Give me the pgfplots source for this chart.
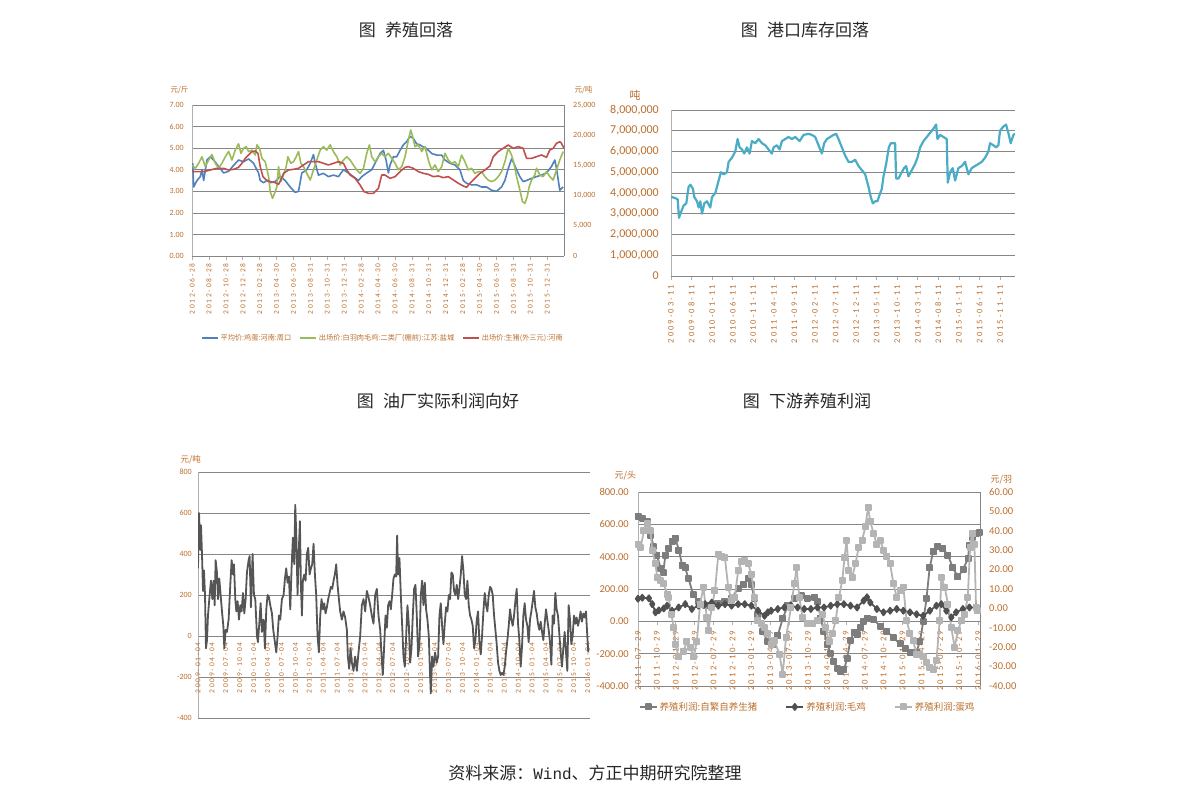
\documentclass[border=0pt]{standalone}
\usepackage{pgfplots}
\pgfplotsset{compat=1.18}
\usepackage{fontspec}
\setmainfont{Carlito}
\newfontfamily\cjk{Noto Sans CJK SC}
\newfontfamily\monof{Liberation Mono}
\newfontfamily\datef[LetterSpace=24]{Carlito}
\definecolor{tickbrown}{RGB}{187,110,45}
\definecolor{gridgray}{RGB}{134,134,134}
\definecolor{axgray}{RGB}{175,175,175}
\definecolor{xlblue}{RGB}{79,129,189}
\definecolor{xlgreen}{RGB}{155,187,89}
\definecolor{xlred}{RGB}{192,80,77}
\definecolor{xlteal}{RGB}{75,172,198}
\definecolor{dgray}{RGB}{85,85,85}
\definecolor{pigc}{RGB}{125,125,125}
\definecolor{broilc}{RGB}{80,80,80}
\definecolor{layc}{RGB}{180,180,180}
\pgfplotsset{
  base/.style={scale only axis, anchor=north west,
    /pgf/number format/assume math mode=true,
    hide obscured x ticks=false,
    tick label style={text=tickbrown},
    ytick style={draw=none},
    xtick style={draw=axgray, line width=0.6pt},
    tick align=outside, major tick length=4pt,
    major grid style={draw=gridgray, line width=0.6pt},
    x axis line style={draw=gridgray, line width=0.7pt, -},
    y axis line style={draw=axgray, line width=0.8pt, -},
    xticklabel style={rotate=90, anchor=east, inner sep=0pt},
    yticklabel style={inner sep=0pt},
    every axis plot/.append style={line join=round},
  },
  zf/.style={yticklabel style={/pgf/number format/fixed, /pgf/number format/fixed zerofill, /pgf/number format/precision=2}},
  thou/.style={yticklabel style={/pgf/number format/fixed, /pgf/number format/precision=0, /pgf/number format/1000 sep={,}}},
}
\begin{document}
\begin{tikzpicture}
\path[use as bounding box] (0pt,0pt) rectangle (1191pt,-804pt);
\begin{scope}[font=\cjk\fontsize{17}{17}\selectfont, text=black!85]
\node at (406pt,-30pt) {图\hspace{0.55em}养殖回落};
\node at (805pt,-30pt) {图\hspace{0.55em}港口库存回落};
\node at (438pt,-401pt) {图\hspace{0.55em}油厂实际利润向好};
\node at (807pt,-401pt) {图\hspace{0.55em}下游养殖利润};
\node at (595pt,-773pt) {资料来源：{\monof\fontsize{16}{16}\selectfont Wind}、方正中期研究院整理};
\end{scope}
\begin{scope}[text=tickbrown]
\node[anchor=west, font=\cjk\fontsize{7.5}{8}\selectfont] at (167pt,-90pt) {元/斤};
\node[anchor=west, font=\cjk\fontsize{7.5}{8}\selectfont] at (571pt,-90pt) {元/吨};
\node[font=\cjk\fontsize{11}{12}\selectfont] at (635pt,-95pt) {吨};
\node[anchor=west, font=\cjk\fontsize{8.5}{9}\selectfont] at (177pt,-460pt) {元/吨};
\node[anchor=west, font=\cjk\fontsize{9}{10}\selectfont] at (611pt,-476pt) {元/头};
\node[anchor=west, font=\cjk\fontsize{9}{10}\selectfont] at (987pt,-480pt) {元/羽};
\end{scope}

% ---------------- Chart 1 -----------------
\begin{axis}[base, zf, at={(192pt,-105pt)}, width=372pt, height=151pt,
  xmin=0, xmax=44, ymin=0, ymax=7,
  axis x line*=bottom, axis y line*=left, ymajorgrids,
  ytick={0,1,2,3,4,5,6,7},
  tick label style={font=\fontsize{8}{9}\selectfont},
  xticklabel style={font=\datef\fontsize{7.5}{8}\selectfont},
  yticklabel shift=4pt, xticklabel shift=3pt,
  xtick={0,2,...,42},
  xticklabels={2012-06-28,2012-08-28,2012-10-28,2012-12-28,2013-02-28,2013-04-30,2013-06-30,2013-08-31,2013-10-31,2013-12-31,2014-02-28,2014-04-30,2014-06-30,2014-08-31,2014-10-31,2014-12-31,2015-02-28,2015-04-30,2015-06-30,2015-08-31,2015-10-31,2015-12-31}]
\addplot[xlblue, line width=1.6pt] coordinates {
(0.08,4.3)(0.20,3.2)(0.59,3.5)(0.98,3.68)(1.18,4.0)(1.38,3.5)(1.77,4.45)(2.17,4.6)(2.56,4.45)(3.15,4.15)(3.74,3.85)(4.33,3.93)(4.92,4.2)(5.51,4.45)(6.10,4.37)(6.69,4.5)(7.28,4.3)(7.87,3.85)(8.07,3.5)(8.46,3.4)(8.86,3.5)(9.25,3.4)(9.84,3.45)(10.43,3.7)(11.02,3.5)(11.61,3.2)(12.20,2.95)(12.60,3.0)(12.99,3.85)(13.58,4.0)(13.98,4.3)(14.37,4.7)(14.57,4.3)(14.96,3.75)(15.55,3.83)(16.14,3.68)(16.73,3.75)(17.32,3.68)(17.91,4.0)(18.50,3.85)(19.09,3.68)(19.69,3.5)(20.08,3.68)(20.67,3.85)(21.26,4.0)(21.85,4.45)(22.24,4.75)(22.64,4.9)(22.95,4.45)(23.23,3.85)(23.43,4.22)(23.82,4.6)(24.21,4.6)(24.61,4.9)(25.0,5.15)(25.39,5.3)(25.79,5.55)(26.18,5.45)(26.57,5.2)(26.97,5.15)(27.36,5.05)(27.76,4.98)(28.35,4.75)(28.94,4.68)(29.53,4.68)(29.92,4.45)(30.51,4.3)(31.10,4.22)(31.69,4.0)(32.09,3.5)(32.48,3.37)(33.07,3.3)(33.66,3.3)(34.25,3.2)(34.84,3.2)(35.43,3.05)(36.02,3.0)(36.61,3.2)(37.01,3.5)(37.40,4.05)(37.80,4.5)(38.07,4.3)(38.39,4.0)(38.78,3.68)(39.17,3.45)(39.57,3.5)(40.16,3.6)(40.75,3.68)(41.34,3.75)(41.93,3.85)(42.52,4.15)(42.91,4.45)(43.11,4.07)(43.50,3.05)(43.90,3.2)};
\addplot[xlgreen, line width=1.6pt] coordinates {
(0,4.2)(0.39,4.07)(0.79,4.3)(1.18,4.6)(1.57,4.15)(1.97,4.45)(2.36,4.7)(2.76,4.3)(3.15,4.07)(3.54,4.3)(3.94,4.6)(4.33,4.85)(4.72,4.45)(5.12,4.91)(5.51,5.2)(5.79,4.76)(6.10,4.99)(6.42,5.07)(6.69,4.84)(7.09,4.91)(7.48,4.68)(7.68,5.15)(7.99,4.99)(8.27,4.53)(8.66,4.37)(9.06,3.68)(9.25,2.98)(9.53,2.67)(9.76,2.9)(10.04,3.21)(10.24,4.14)(10.51,3.45)(10.83,3.76)(11.14,4.14)(11.34,4.6)(11.69,4.3)(12.01,4.37)(12.32,4.6)(12.6,4.84)(12.87,4.3)(13.19,4.14)(13.58,3.83)(13.98,3.52)(14.37,3.99)(14.76,4.45)(15.16,4.91)(15.55,5.07)(15.94,4.91)(16.34,5.15)(16.73,4.84)(17.13,4.6)(17.52,4.22)(17.91,4.45)(18.31,4.6)(18.70,4.45)(19.09,4.22)(19.49,3.99)(19.88,3.83)(20.28,4.07)(20.67,4.76)(20.98,5.15)(21.26,4.6)(21.65,4.37)(22.05,4.6)(22.44,4.76)(22.83,4.6)(23.23,4.76)(23.62,4.53)(24.02,4.3)(24.41,4.0)(24.8,4.14)(25.2,4.6)(25.59,5.38)(25.87,5.84)(26.1,5.53)(26.38,5.07)(26.77,5.15)(27.17,4.84)(27.56,5.07)(27.95,4.45)(28.35,3.99)(28.74,4.22)(29.13,3.91)(29.53,4.14)(29.92,4.76)(30.31,4.45)(30.71,4.3)(31.1,4.37)(31.5,4.14)(31.89,4.68)(32.28,4.37)(32.68,3.99)(33.07,4.07)(33.46,3.83)(33.86,3.91)(34.25,3.91)(34.65,3.68)(35.04,3.52)(35.43,3.45)(35.83,3.52)(36.22,3.68)(36.61,3.91)(37.01,4.37)(37.4,4.99)(37.8,4.68)(38.07,4.3)(38.39,3.68)(38.78,3.06)(39.09,2.52)(39.37,2.44)(39.65,2.75)(39.88,3.21)(40.16,3.52)(40.55,3.76)(40.75,4.07)(41.14,3.76)(41.54,3.68)(41.93,3.91)(42.32,3.68)(42.72,3.52)(43.11,3.99)(43.5,4.45)(43.9,4.84)};
\end{axis}
\begin{axis}[base, thou, at={(192pt,-105pt)}, width=372pt, height=151pt,
  xmin=0, xmax=44, ymin=0, ymax=25000,
  axis x line=none, axis y line*=right,
  y axis line style={draw=gridgray},
  ytick={0,5000,10000,15000,20000,25000}, scaled y ticks=false,
  yticklabel style={anchor=west},
  tick label style={font=\fontsize{8}{9}\selectfont},
  yticklabel shift=5pt,
  legend style={at={(0.513,-0.543)}, anchor=center, draw=none, fill=none,
    legend columns=-1, font=\cjk\fontsize{7.2}{8}\selectfont, text=tickbrown,
    /tikz/every even column/.append style={column sep=6pt}},
  legend image code/.code={\draw[#1] (0pt,0pt) -- (16pt,0pt);}]
\addlegendimage{xlblue, line width=1.6pt}
\addlegendentry{平均价:鸡蛋:河南:周口}
\addlegendimage{xlgreen, line width=1.6pt}
\addlegendentry{出场价:白羽肉毛鸡:二类厂(棚前):江苏:盐城}
\addplot[xlred, line width=1.6pt] coordinates {
(0,13970)(0.59,13970)(1.38,13970)(2.17,14240)(2.95,14520)(3.74,14520)(4.33,14240)(4.92,14350)(5.51,14680)(5.91,15350)(6.3,16170)(6.69,16730)(7.09,17280)(7.48,17390)(7.8,17000)(8.07,14790)(8.39,13140)(8.78,12590)(9.25,12310)(9.84,12140)(10.24,11870)(10.51,12590)(10.83,13690)(11.42,14240)(12.01,14350)(12.6,14520)(13.19,15070)(13.78,15620)(14.37,15620)(14.96,15620)(15.55,15350)(16.14,15070)(16.73,15350)(17.32,15620)(17.91,15350)(18.31,14240)(18.7,13410)(19.29,12860)(19.88,11760)(20.35,10650)(20.87,10380)(21.46,10380)(22.05,11210)(22.44,13410)(22.83,13410)(23.43,12860)(24.02,13140)(24.61,13970)(25.2,14680)(25.59,14790)(26.18,14520)(26.77,13970)(27.36,13690)(27.95,13520)(28.54,13140)(29.13,13250)(29.72,12970)(30.31,13140)(30.91,12590)(31.5,12040)(32.09,11590)(32.48,11370)(32.87,12040)(33.46,12860)(34.06,13690)(34.65,14240)(35.24,14900)(35.63,16450)(36.22,17280)(36.81,17830)(37.4,18380)(37.99,17830)(38.58,18110)(39.17,17830)(39.57,16170)(40.16,16170)(40.75,16450)(41.34,16730)(41.93,16340)(42.32,17550)(42.72,17830)(43.11,18660)(43.5,18930)(43.7,18660)(44.0,17830)};
\addlegendentry{出场价:生猪(外三元):河南}
\end{axis}

% ---------------- Chart 2 -----------------
\begin{axis}[base, thou, at={(671pt,-110pt)}, width=344pt, height=166pt,
  xmin=0, xmax=83.64, ymin=0, ymax=8000000,
  axis x line*=bottom, axis y line*=left, ymajorgrids,
  ytick={0,1000000,2000000,3000000,4000000,5000000,6000000,7000000,8000000},
  scaled y ticks=false,
  tick label style={font=\fontsize{12}{13}\selectfont},
  xticklabel style={font=\datef\fontsize{8.5}{9}\selectfont},
  yticklabel shift=8pt, xticklabel shift=5pt,
  xtick={0,5,...,80},
  xticklabels={2009-03-11,2009-08-11,2010-01-11,2010-06-11,2010-11-11,2011-04-11,2011-09-11,2012-02-11,2012-07-11,2012-12-11,2013-05-11,2013-10-11,2014-03-11,2014-08-11,2015-01-11,2015-06-11,2015-11-11}]
\addplot[xlteal, line width=2.2pt] coordinates {
(0,3820000)(1.05,3750000)(1.62,3700000)(1.94,2800000)(2.27,3000000)(3.08,3400000)(3.72,3500000)(4.05,4000000)(4.29,4300000)(4.70,4400000)(5.34,4200000)(5.67,3800000)(6.32,3600000)(6.72,3300000)(7.13,3600000)(7.53,3000000)(8.10,3500000)(8.74,3600000)(9.55,3300000)(9.96,3800000)(10.77,4000000)(11.58,4600000)(12.15,5000000)(12.79,4900000)(13.60,5000000)(14.01,5500000)(14.82,5700000)(15.63,6000000)(16.19,6600000)(16.68,6200000)(17.25,6100000)(17.81,5900000)(18.46,6200000)(19.11,5900000)(19.68,6500000)(20.49,6400000)(21.30,6600000)(22.11,6400000)(22.91,6300000)(23.72,6100000)(24.53,5900000)(24.94,6200000)(25.75,6300000)(26.40,6100000)(26.96,6500000)(27.77,6600000)(28.58,6700000)(29.39,6600000)(30.20,6700000)(31.26,6500000)(32.23,6800000)(33.44,6850000)(34.25,6800000)(35.06,6700000)(35.87,6300000)(36.68,5900000)(37.25,6400000)(37.89,6600000)(38.70,6700000)(39.51,6800000)(40.16,6850000)(40.73,6600000)(41.54,6200000)(42.35,5800000)(43.16,5500000)(43.97,5500000)(44.78,5600000)(45.59,5300000)(46.40,5100000)(47.21,4900000)(48.02,4300000)(48.58,3800000)(49.07,3500000)(49.64,3600000)(50.20,3600000)(50.69,3900000)(51.26,4200000)(51.66,4800000)(52.31,5400000)(52.96,6200000)(53.44,6400000)(54.09,6400000)(54.49,6400000)(54.74,4700000)(55.30,4700000)(56.11,5000000)(56.68,5200000)(57.17,5300000)(57.73,4800000)(58.54,5100000)(59.35,5400000)(59.92,5700000)(60.57,6200000)(61.38,6500000)(62.19,6700000)(63.00,6900000)(63.81,7100000)(64.45,7300000)(64.78,6600000)(65.43,6800000)(66.23,6700000)(67.04,6600000)(67.29,4500000)(67.85,5000000)(68.50,5200000)(69.07,4600000)(69.88,5200000)(70.69,5300000)(71.50,5500000)(72.31,4900000)(73.12,5200000)(73.93,5300000)(74.74,5400000)(75.55,5500000)(76.36,5700000)(77.17,6000000)(77.57,6400000)(78.38,6300000)(79.03,6200000)(79.60,6300000)(80.00,7000000)(80.81,7200000)(81.46,7300000)(82.02,6900000)(82.59,6400000)(83.24,6800000)(83.64,6850000)};
\end{axis}

% ---------------- Chart 3 -----------------
\begin{axis}[base, at={(198pt,-472pt)}, width=392pt, height=246pt,
  xmin=0, xmax=84.5, ymin=-400, ymax=800,
  axis x line*=middle, axis y line*=left, ymajorgrids,
  xtick style={draw=none},
  ytick={-400,-200,0,200,400,600,800},
  tick label style={font=\fontsize{8}{9}\selectfont},
  xticklabel style={font=\datef\fontsize{7.5}{8}\selectfont},
  yticklabel shift=2pt, xticklabel shift=2pt,
  xtick={0,3,...,84},
  xticklabels={2009-01-04,2009-04-04,2009-07-04,2009-10-04,2010-01-04,2010-04-04,2010-07-04,2010-10-04,2011-01-04,2011-04-04,2011-07-04,2011-10-04,2012-01-04,2012-04-04,2012-07-04,2012-10-04,2013-01-04,2013-04-04,2013-07-04,2013-10-04,2014-01-04,2014-04-04,2014-07-04,2014-10-04,2015-01-04,2015-04-04,2015-07-04,2015-10-04,2016-01-04}]
\addplot[dgray, line width=1.8pt] coordinates {
(0,330)(0.22,600)(0.50,420)(0.65,540)(0.86,400)(1.08,220)(1.29,320)(1.51,200)(1.72,-60)(1.94,-20)(2.15,100)(2.51,200)(2.80,270)(3.09,180)(3.37,270)(3.59,150)(3.80,370)(4.09,310)(4.31,180)(4.59,280)(4.88,200)(5.17,120)(5.46,50)(5.67,-60)(5.96,30)(6.25,20)(6.60,80)(6.96,250)(7.25,370)(7.54,300)(7.75,350)(8.04,180)(8.26,120)(8.54,170)(8.83,80)(9.12,150)(9.40,120)(9.69,210)(9.98,110)(10.27,180)(10.55,310)(10.91,370)(11.13,390)(11.41,140)(11.77,400)(12.06,200)(12.35,180)(12.71,0)(12.92,-30)(13.21,60)(13.50,160)(13.78,20)(14.14,80)(14.43,-60)(14.72,130)(15.00,200)(15.29,190)(15.58,150)(15.94,110)(16.22,30)(16.51,-20)(16.87,-80)(17.16,0)(17.44,100)(17.73,80)(18.09,180)(18.45,200)(18.74,280)(19.02,330)(19.31,260)(19.60,290)(19.89,130)(20.17,330)(20.46,480)(20.75,350)(20.96,640)(21.18,500)(21.46,200)(21.75,430)(21.97,560)(22.18,250)(22.40,100)(22.61,270)(22.90,300)(23.19,270)(23.47,400)(23.76,430)(24.05,300)(24.34,330)(24.62,350)(24.91,450)(25.20,300)(25.48,200)(25.77,0)(26.06,-80)(26.35,100)(26.63,180)(26.92,130)(27.21,160)(27.49,110)(27.78,140)(28.07,180)(28.36,210)(28.64,240)(28.93,230)(29.22,270)(29.50,300)(29.79,350)(30.08,250)(30.37,180)(30.65,120)(31.01,80)(31.37,120)(31.73,90)(32.09,30)(32.30,-100)(32.59,-160)(32.88,-60)(33.17,-130)(33.52,-170)(33.88,-100)(34.24,-170)(34.60,-80)(34.96,0)(35.32,150)(35.68,180)(36.04,120)(36.40,220)(36.75,190)(37.11,150)(37.47,100)(37.83,60)(38.19,200)(38.55,230)(38.91,100)(39.27,30)(39.63,-120)(39.84,-190)(40.13,-50)(40.42,100)(40.70,40)(40.99,150)(41.28,170)(41.57,130)(41.85,200)(42.14,280)(42.43,300)(42.71,290)(42.93,490)(43.14,300)(43.43,380)(43.72,200)(44.01,50)(44.29,-100)(44.58,-150)(44.87,0)(45.15,150)(45.44,60)(45.73,-130)(46.02,-60)(46.30,100)(46.59,230)(46.88,250)(47.16,100)(47.45,-100)(47.74,-40)(48.03,200)(48.31,270)(48.60,150)(48.89,260)(49.17,130)(49.46,80)(49.75,0)(49.96,-150)(50.18,-280)(50.47,-100)(50.75,-150)(51.11,-80)(51.47,-130)(51.76,-100)(52.05,100)(52.33,160)(52.62,50)(52.91,-40)(53.19,60)(53.48,140)(53.77,120)(54.06,200)(54.34,180)(54.63,310)(54.92,300)(55.20,220)(55.49,200)(55.78,250)(56.07,180)(56.35,230)(56.64,300)(56.93,390)(57.21,320)(57.50,200)(57.79,180)(58.08,270)(58.36,150)(58.65,100)(58.94,80)(59.22,50)(59.51,-60)(59.80,-20)(60.09,80)(60.37,120)(60.66,-30)(60.95,-90)(61.23,0)(61.52,120)(61.81,210)(62.10,150)(62.38,120)(62.67,200)(62.96,240)(63.24,230)(63.53,200)(63.82,100)(64.11,30)(64.39,-40)(64.68,-130)(64.97,-170)(65.25,-190)(65.54,-180)(65.83,-190)(66.12,-150)(66.40,-80)(66.69,-20)(66.98,50)(67.26,130)(67.55,80)(67.84,50)(68.13,100)(68.41,170)(68.70,230)(68.99,60)(69.27,-20)(69.56,-150)(69.85,-50)(70.14,100)(70.42,160)(70.71,80)(71.00,50)(71.28,-30)(71.57,80)(71.86,120)(72.15,170)(72.43,220)(72.72,140)(73.01,110)(73.29,60)(73.58,30)(73.87,70)(74.16,20)(74.44,-20)(74.73,60)(75.02,130)(75.30,80)(75.59,30)(75.88,-30)(76.17,-140)(76.45,100)(76.74,60)(77.03,210)(77.31,130)(77.60,100)(77.89,10)(78.18,-80)(78.46,-150)(78.75,-60)(79.04,20)(79.33,-80)(79.61,-170)(79.90,150)(80.19,80)(80.47,-40)(80.76,0)(81.05,100)(81.34,60)(81.62,90)(81.91,50)(82.20,80)(82.48,120)(82.77,70)(83.06,110)(83.35,90)(83.63,120)(83.92,0)(84.13,-80)};
\end{axis}

% ---------------- Chart 4 -----------------
\begin{axis}[base, zf, at={(638pt,-492pt)}, width=342pt, height=194pt,
  xmin=0, xmax=54.3, ymin=-400, ymax=800,
  axis x line*=middle, axis y line*=left, ymajorgrids,
  ytick={-400,-200,0,200,400,600,800},
  tick label style={font=\fontsize{10.5}{11}\selectfont},
  xticklabel style={font=\datef\fontsize{8.8}{9}\selectfont},
  yticklabel shift=5pt, xticklabel shift=5pt,
  xtick={0,3,...,54},
  xticklabels={2011-07-29,2011-10-29,2012-01-29,2012-04-29,2012-07-29,2012-10-29,2013-01-29,2013-04-29,2013-07-29,2013-10-29,2014-01-29,2014-04-29,2014-07-29,2014-10-29,2015-01-29,2015-04-29,2015-07-29,2015-10-29,2016-01-29}]
\addplot[pigc, line width=1.8pt, mark=square*, mark size=2.6pt, mark options={fill=pigc, draw=pigc}] coordinates {
(0,650)(0.7,637)(1.5,616)(2,534)(2.5,462)(3,410)(3.6,328)(4,300)(4.35,410)(4.9,451)(5.4,493)(5.9,515)(6.5,441)(7,348)(7.5,330)(8,266)(8.8,163)(9.6,122)(10.7,100)(11.7,100)(12.7,110)(13.8,122)(14.8,140)(15.9,204)(16.7,225)(17.5,266)(18,225)(18.5,140)(19,40)(19.8,-64)(20.6,-126)(21.4,-146)(22.2,-85)(23,20)(23.8,100)(24.8,140)(25.9,160)(26.9,140)(28,150)(28.5,120)(29,20)(29.5,-60)(30.1,-146)(30.6,-200)(31.1,-250)(31.7,-290)(32.2,-310)(32.7,-300)(33.2,-230)(33.7,-120)(34.3,-70)(34.8,-80)(35.3,-40)(35.8,0)(36.4,20)(37.4,10)(38.5,-30)(39.5,-60)(40.5,-100)(41.6,-140)(42.5,-170)(43.2,-190)(44.2,-190)(44.75,-125)(45.3,0)(45.8,140)(46.3,330)(46.85,430)(47.6,460)(48.4,450)(49.2,410)(50,330)(50.8,275)(51.6,320)(52.4,390)(52.6,470)(53.1,520)(53.7,545)(54.2,550)};
\end{axis}
\begin{axis}[base, zf, at={(638pt,-492pt)}, width=342pt, height=194pt,
  xmin=0, xmax=54.3, ymin=-40, ymax=60,
  axis x line=none, axis y line*=right,
  y axis line style={draw=gridgray},
  ytick={-40,-30,-20,-10,0,10,20,30,40,50,60},
  yticklabel style={anchor=west},
  tick label style={font=\fontsize{10.5}{11}\selectfont},
  yticklabel shift=5pt,
  legend style={at={(0.496,-0.108)}, anchor=center, draw=none, fill=none,
    legend columns=-1, font=\cjk\fontsize{9.5}{10}\selectfont, text=tickbrown,
    /tikz/every even column/.append style={column sep=26pt}}]
\addlegendimage{pigc, line width=1.8pt, mark=square*, mark size=2.6pt, mark options={fill=pigc, draw=pigc}}
\addlegendentry{养殖利润:自繁自养生猪}
\addplot[broilc, line width=1.8pt, mark=diamond*, mark size=3pt, mark options={fill=broilc, draw=broilc}] coordinates {
(0,5)(0.68,5.5)(1.73,5.2)(2.26,2.2)(2.78,-2)(3.31,-1)(4.09,0)(4.62,1.4)(5.40,-1.2)(6.45,0.5)(7.50,2.2)(8.55,-0.3)(9.60,1.4)(10.65,2.2)(11.70,3)(12.75,1.4)(13.80,2.2)(14.85,1.4)(15.90,2.2)(16.95,2.2)(18.0,1.4)(19.05,-1.2)(20.09,-3.8)(20.62,-2)(21.14,-1.2)(22.19,-0.3)(23.24,0.5)(24.29,1.4)(25.34,0.5)(26.39,-0.3)(27.44,-0.3)(28.49,0.5)(29.54,0.5)(30.59,1.4)(31.64,2.2)(32.69,2.2)(33.74,1.4)(34.78,0.5)(35.83,4)(36.36,5.7)(36.88,3)(37.93,-0.3)(38.98,-2)(40.03,-1.2)(41.08,-0.3)(42.13,-1.2)(43.18,-2)(44.23,-3)(45.28,-3.8)(46.33,-1.2)(47.38,1.4)(48.16,2.2)(48.95,-1.2)(49.74,-4.6)(50.52,-2)(51.57,-0.3)(52.62,0.5)(53.67,0.5)(53.83,0)};
\addlegendentry{养殖利润:毛鸡}
\addplot[layc, line width=1.8pt, mark=square*, mark size=2.6pt, mark options={fill=layc, draw=layc}] coordinates {
(0,33)(0.42,31.5)(0.94,40)(1.47,43.6)(1.99,40)(2.26,30)(2.78,23)(3.04,16)(3.57,14.3)(4.09,12.6)(4.62,7.4)(4.88,5.7)(5.30,-3)(5.67,-10)(5.93,-18.4)(6.45,-25)(7.24,-22)(7.76,-17)(8.29,-20)(8.81,-25)(9.34,-17)(9.86,2.2)(10.39,11)(10.91,-4.6)(11.18,-11.5)(11.70,0.5)(12.22,9)(12.75,28)(13.27,27)(13.80,26)(14.32,11)(14.85,4)(15.37,5.7)(15.90,19.5)(16.42,24)(16.95,24.6)(17.47,23)(18.0,17.7)(18.52,5.7)(19.05,-6.4)(19.57,-8)(20.09,-9.8)(20.62,-13)(21.14,-18.4)(21.67,-16.7)(22.46,-23.6)(22.98,-34)(23.50,-15)(24.29,0.5)(24.82,12.6)(25.18,21)(25.60,5.7)(26.13,-4.6)(26.92,-8)(27.70,-8)(28.49,-6.4)(29.28,-3)(29.80,-10)(30.33,-17)(30.85,-13)(31.37,-6.4)(31.90,5.7)(32.42,14.3)(32.79,26)(33.11,35)(33.47,19.5)(34.0,16)(34.52,23)(35.05,31.5)(35.57,35)(36.10,42)(36.52,52)(36.88,45)(37.41,38.4)(37.93,33)(38.46,35)(38.98,30)(39.51,27)(40.03,23)(40.56,12.6)(41.08,5.7)(41.61,9)(42.13,11)(42.65,-6.4)(43.18,-13)(43.70,-16.7)(44.23,-23.6)(44.75,-23.6)(45.28,-25)(45.80,-28)(46.33,-30.5)(46.85,-31.4)(47.38,-27)(47.90,-6.4)(48.16,16)(48.69,11)(49.21,2.2)(49.74,-9.8)(50.26,-20)(50.79,-11.5)(51.31,-6.4)(51.84,-3)(52.36,5.7)(52.73,31.5)(53.04,38.4)(53.41,33)(53.67,0.5)(53.83,-1)};
\addlegendentry{养殖利润:蛋鸡}
\end{axis}
\end{tikzpicture}
\end{document}
